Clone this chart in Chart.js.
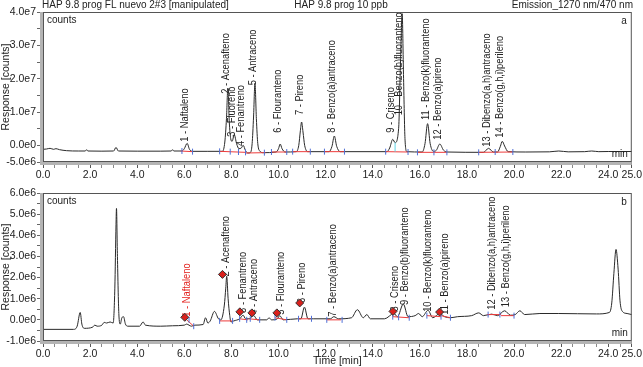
<!DOCTYPE html>
<html>
<head>
  <title>HAP 9.8 prog 10 ppb</title>
  <script src="https://cdn.jsdelivr.net/npm/chart.js"></script>
  <style>
    body {
      margin: 0;
      background: #fff;
      font-family: "Liberation Sans", Arial, sans-serif;
    }
    #wrap { position: relative; width: 643px; height: 367px; }
    .panel { position: absolute; left: 0; width: 643px; }
    #pa { top: 0; height: 182px; }
    #pb { top: 182px; height: 185px; }
  </style>
</head>
<body>

<div id="wrap">
  <div class="panel" id="pa"><canvas id="chartA" width="643" height="182"></canvas></div>
  <div class="panel" id="pb"><canvas id="chartB" width="643" height="185"></canvas></div>
</div>

<script>
  // ---- axes ----
  const xMajor = [0, 2, 4, 6, 8, 10, 12, 14, 16, 18, 20, 22, 24, 25];
  const yTicksA = [-5e6, 0, 1e7, 2e7, 3e7, 4e7];
  const yTicksB = [-1e6, 0, 1e6, 2e6, 3e6, 4e6, 5e6, 6e6];

  // ---- panel a : standard 10 ppb ----
  const timesA = [0, 0.15, 0.3, 0.45, 0.55, 0.7, 1.0, 1.5, 1.8, 1.85, 1.9, 2.5, 3.0, 3.1, 3.2, 4.0, 5.0, 5.45, 5.5, 5.55,
    5.9, 6.0, 6.12, 6.22, 6.35, 7.0, 7.62, 7.72, 7.79, 7.85, 7.91, 7.97, 8.03, 8.12, 8.22, 8.32, 8.42, 8.5, 8.6, 8.7,
    8.8, 8.88, 8.94, 9.0, 9.06, 9.12, 9.22, 9.35, 9.9, 10.0, 10.07, 10.15, 10.28, 10.75, 10.86, 10.93, 10.98, 11.04, 11.11, 11.25,
    12.15, 12.27, 12.37, 12.47, 12.62, 14.6, 14.72, 14.85, 14.95, 15.1, 15.18, 15.25, 15.31, 15.37, 15.45,
    16.1, 16.22, 16.33, 16.44, 16.58, 16.7, 16.85, 17.0, 17.15, 18.7, 18.92, 19.12, 19.3, 19.42, 19.5, 19.6, 19.75,
    20.5, 21.5, 21.9, 22.3, 23.0, 23.3, 23.6, 24.0, 25.0];
  const countsA = [-1.2e6, -1.1e6, -0.9e6, -1.2e6, -1.0e6, -1.3e6, -1.6e6, -1.7e6, -1.7e6, -1.3e6, -1.7e6, -1.75e6, -1.7e6, -0.6e6, -1.7e6, -1.75e6, -1.75e6, -1.7e6, -1.3e6, -1.7e6,
    -1.7e6, -1.0e6, 0.6e6, -1.2e6, -1.8e6, -1.8e6, -1.8e6, 1.0e6, 8.0e6, 1.72e7, 7.0e6, 2.0e6, 1.2e6, 3.2e6, 0.5e6, -1.0e6, -0.8e6, 0.0, -1.6e6, -2.3e6,
    -2.2e6, 0.5e6, 8.5e6, 1.86e7, 8.0e6, 0.5e6, -1.8e6, -2.2e6, -2.0e6, -1.0e6, 0.4e6, -1.0e6, -2.0e6, -1.9e6, 0.0, 4.5e6, 7.0e6, 4.0e6, 0.0, -1.9e6,
    -1.9e6, -0.3e6, 2.8e6, -0.3e6, -1.9e6, -1.9e6, -0.8e6, 1.8e6, 0.8e6, 5.0e6, 2.5e7, 3.95e7, 2.0e7, 2.0e6, -1.9e6,
    -2.0e6, 0.5e6, 6.5e6, 0.5e6, -1.8e6, -1.5e6, 0.4e6, -1.4e6, -2.0e6, -2.1e6, -0.9e6, -2.0e6, -2.0e6, -0.3e6, 1.2e6, -0.2e6, -1.9e6,
    -2.0e6, -1.95e6, -1.7e6, -1.95e6, -1.9e6, -1.7e6, -1.9e6, -1.85e6, -1.85e6];

  const namesA = ["1 - Naftaleno", "2 - Acenafteno", "3 - Fluoreno", "4 - Fenantreno", "5 - Antraceno", "6 - Flouranteno",
    "7 - Pireno", "8 - Benzo(a)antraceno", "9 - Criseno", "10 - Benzo(b)fluoranteno", "11 - Benzo(k)fluoranteno",
    "12 - Benzo(a)pireno", "13 - Dibenzo(a,h)antraceno", "14 - Benzo(g,h,i)perileno"];
  const labelTimesA = [6.12, 7.85, 8.12, 8.5, 9.0, 10.07, 10.98, 12.37, 14.85, 15.22, 16.33, 16.85, 18.92, 19.5];
  const labelBaseA = [1.1e6, 1.55e7, 2.6e6, -0.2e6, 1.8e7, 3.8e6, 9.1e6, 3.8e6, 3.8e6, 9.0e6, 7.6e6, 1.7e6, -0.4e6, 2.3e6];

  // integration baselines [t1, v1, t2, v2] and limit marks
  const baselinesA = [[5.85, -1.7e6, 6.35, -1.9e6], [7.5, -1.8e6, 8.6, -2.1e6], [8.6, -2.3e6, 9.45, -2.2e6],
    [9.7, -2.0e6, 10.35, -2.0e6], [10.6, -1.9e6, 11.35, -1.9e6], [11.95, -1.9e6, 12.8, -1.9e6],
    [14.55, -1.9e6, 15.5, -2.0e6], [15.9, -2.1e6, 17.15, -2.1e6], [18.5, -2.1e6, 19.95, -2.0e6]];
  const limitTimesA = [5.9, 6.35, 7.5, 7.95, 8.3, 8.6, 9.4, 9.7, 10.35, 10.6, 11.35, 11.95, 12.8, 14.55, 15.5, 15.9, 16.6, 17.15, 18.5, 19.2, 19.95];
  const limitCountsA = [-1.7e6, -1.9e6, -1.8e6, -1.9e6, -2.0e6, -2.1e6, -2.2e6, -2.0e6, -2.0e6, -1.9e6, -1.9e6, -1.9e6, -1.9e6, -1.9e6, -2.0e6, -2.1e6, -2.1e6, -2.1e6, -2.1e6, -2.0e6, -2.0e6];
  const dropTimeA = [14.95, 14.95];
  const dropCountsA = [-1.9e6, 0.8e6];

  // ---- panel b : sample ----
  const timesB = [0, 1.3, 1.45, 1.58, 1.65, 1.75, 2.1, 2.2, 2.3, 2.5, 2.6, 2.7, 2.85, 2.98, 3.05, 3.1, 3.12, 3.16, 3.22, 3.28,
    3.35, 3.42, 3.5, 3.6, 4.1, 4.25, 4.35, 5.0, 5.5, 6.0, 6.1, 6.2, 6.3, 6.45, 6.8, 6.9, 7.0, 7.1, 7.28, 7.45,
    7.55, 7.7, 7.76, 7.8, 7.86, 7.93, 7.98, 8.1, 8.35, 8.5, 8.6, 8.75, 8.95, 9.1, 9.5, 9.6, 9.7, 9.95, 10.05, 10.2,
    10.8, 10.95, 11.1, 11.25, 11.5, 12.2, 12.35, 12.55, 13.1, 13.35, 13.6, 13.75, 13.9, 14.5, 14.9, 15.05, 15.3, 15.5, 15.8, 15.95,
    16.1, 16.35, 16.55, 16.85, 17.05, 17.3, 17.6, 18.2, 18.5, 18.7, 19.05, 19.3, 19.6, 19.85, 20.05, 20.25, 20.45, 21.1, 21.9, 23.5,
    24.05, 24.15, 24.24, 24.33, 24.42, 24.5, 24.6, 24.8, 25.0];
  const countsB = [-0.45e6, -0.45e6, -0.3e6, 0.35e6, -0.2e6, -0.4e6, -0.35e6, -0.25e6, -0.3e6, -0.25e6, -0.12e6, -0.15e6, -0.1e6, -0.15e6, 1.5e6, 4.5e6, 5.27e6, 3.0e6, 0.3e6, -0.2e6,
    0.1e6, 0.15e6, -0.2e6, -0.3e6, -0.3e6, -0.1e6, -0.25e6, -0.3e6, -0.28e6, -0.25e6, -0.2e6, -0.25e6, -0.3e6, -0.25e6, -0.22e6, 0.1e6, -0.15e6, -0.05e6, 0.4e6, 0.05e6,
    0.0, 0.7e6, 1.5e6, 2.06e6, 1.0e6, 0.2e6, -0.1e6, -0.05e6, 0.05e6, 0.22e6, 0.05e6, 0.05e6, 0.2e6, 0.0, 0.0, 0.1e6, 0.0, 0.05e6, 0.2e6, 0.0,
    0.05e6, 0.05e6, 0.6e6, 0.05e6, 0.05e6, 0.05e6, 0.15e6, 0.05e6, 0.1e6, 0.48e6, 0.1e6, 0.25e6, 0.05e6, 0.05e6, 0.3e6, 0.15e6, 0.75e6, 0.15e6, 0.2e6, 0.3e6,
    0.15e6, 0.45e6, 0.1e6, 0.3e6, 0.15e6, 0.1e6, 0.15e6, 0.2e6, 0.33e6, 0.2e6, 0.27e6, 0.2e6, 0.43e6, 0.22e6, 0.25e6, 0.43e6, 0.25e6, 0.3e6, 0.3e6, 0.28e6,
    0.35e6, 0.8e6, 2.2e6, 3.33e6, 2.4e6, 0.9e6, 0.4e6, 0.3e6, 0.25e6];

  const namesB = ["1 - Naftaleno", "2 - Acenafteno", "3 - Fenantreno", "4 - Antraceno", "5 - Flouranteno", "6 - Pireno",
    "7 - Benzo(a)antraceno", "8 - Criseno", "9 - Benzo(b)fluoranteno", "10 - Benzo(k)fluoranteno", "11 - Benzo(a)pireno",
    "12 - Dibenzo(a,h)antraceno", "13 - Benzo(g,h,i)perileno"];
  const labelTimesB = [6.2, 7.85, 8.58, 9.06, 10.17, 11.1, 12.39, 15.05, 15.45, 16.44, 17.15, 19.16, 19.73];
  const labelBaseB = [0.15e6, 2.05e6, 0.33e6, 0.24e6, 0.24e6, 0.8e6, 0.15e6, 0.4e6, 0.7e6, 0.38e6, 0.24e6, 0.48e6, 0.6e6];
  const markerTimesB = [6.02, 7.62, 8.36, 8.87, 9.93, 10.9, 14.86, 16.84];
  const markerCountsB = [0.12e6, 2.15e6, 0.38e6, 0.33e6, 0.33e6, 0.8e6, 0.4e6, 0.37e6];

  const baselinesB = [[6.1, 0.0, 6.4, -0.3e6], [7.5, -0.05e6, 8.05, -0.05e6], [8.35, 0.05e6, 8.7, 0.0], [8.75, 0.05e6, 9.2, 0.0],
    [9.85, 0.1e6, 10.35, 0.0], [10.85, 0.05e6, 11.35, 0.05e6], [12.05, 0.0, 12.65, 0.0], [14.85, 0.15e6, 15.55, 0.1e6],
    [16.3, 0.2e6, 16.9, 0.15e6], [16.9, 0.2e6, 17.3, 0.1e6], [18.85, 0.25e6, 19.45, 0.25e6], [19.45, 0.2e6, 20.0, 0.2e6]];
  const limitTimesB = [6.2, 6.4, 7.5, 8.05, 8.35, 8.65, 8.8, 9.2, 9.85, 10.35, 10.85, 11.4, 12.05, 12.7, 14.85, 15.1, 15.55, 16.3, 16.9, 17.3, 18.9, 19.4, 20.0];
  const limitCountsB = [0.0, -0.3e6, -0.05e6, -0.05e6, 0.05e6, 0.0, 0.05e6, 0.0, 0.1e6, 0.0, 0.05e6, 0.05e6, 0.0, 0.0, 0.15e6, 0.12e6, 0.1e6, 0.2e6, 0.15e6, 0.1e6, 0.25e6, 0.25e6, 0.2e6];

  // ---- helpers ----
  Chart.defaults.font.family = '"Liberation Sans", Arial, sans-serif';
  Chart.defaults.color = '#222';

  const pts = (xs, ys) => xs.map((x, i) => ({ x: x, y: ys[i] }));
  const segs = list => {
    const out = [];
    list.forEach(s => out.push({ x: s[0], y: s[1] }, { x: s[2], y: s[3] }, { x: s[2], y: null }));
    return out;
  };
  const fmt = v => v.toExponential(1).replace('e+', 'e');

  const framePlugin = {
    id: 'frame',
    beforeDatasetsDraw(chart, args, opts) {
      const ctx = chart.ctx, xs = chart.scales.x, ys = chart.scales.y;
      ctx.save();
      ctx.font = '10px "Liberation Sans", Arial, sans-serif';
      ctx.textAlign = 'left';
      ctx.textBaseline = 'alphabetic';
      opts.names.forEach((n, i) => {
        const px = xs.getPixelForValue(opts.times[i]);
        const py = ys.getPixelForValue(opts.base[i]);
        ctx.fillStyle = (opts.red && i === 0) ? '#e3231f' : '#222';
        ctx.save();
        ctx.translate(px + 1, py);
        ctx.rotate(-Math.PI / 2);
        ctx.scale(0.93, 1);   // the original labels are a little narrower
        ctx.fillText(n, 0, 0);
        ctx.restore();
      });
      ctx.restore();
    },
    afterDraw(chart, args, opts) {
      const ctx = chart.ctx, a = chart.chartArea;
      ctx.save();
      ctx.fillStyle = '#b4b4b4';
      ctx.fillRect(a.left - 3, a.top, 3, a.bottom - a.top + 3);
      ctx.fillRect(a.left - 3, a.bottom, a.right - a.left + 3, 3);
      ctx.strokeStyle = '#555';
      ctx.lineWidth = 1;
      ctx.strokeRect(a.left + 0.5, a.top + 0.5, a.right - a.left - 1, a.bottom - a.top - 1);
      ctx.fillStyle = '#222';
      ctx.font = '10px "Liberation Sans", Arial, sans-serif';
      ctx.textBaseline = 'middle';
      ctx.textAlign = 'left';
      ctx.fillText('counts', a.left + 4, a.top + 8);
      ctx.textAlign = 'right';
      ctx.fillText(opts.tag, a.right - 5, a.top + 9);
      ctx.fillText('min', a.right - 4, a.bottom - 8);
      if (opts.header) {
        ctx.textAlign = 'left';
        ctx.fillText('HAP 9.8 prog FL nuevo 2#3 [manipulated]', 42, 5);
        ctx.textAlign = 'center';
        ctx.fillText('HAP 9.8 prog 10 ppb', 341, 5);
        ctx.textAlign = 'right';
        ctx.fillText('Emission_1270 nm/470 nm', 633, 5);
      }
      ctx.restore();
    }
  };

  function makeChart(id, cfg) {
    const minorX = [];
    for (let t = 0; t <= 25; t += 0.5) minorX.push(t);
    const datasets = [
      {
        data: pts(cfg.times, cfg.counts),
        borderColor: '#2a2a2a', borderWidth: 1, pointRadius: 0,
        cubicInterpolationMode: 'monotone', order: 3
      },
      {
        data: segs(cfg.baselines),
        borderColor: '#ee3b3b', borderWidth: 1, pointRadius: 0, spanGaps: false, order: 2
      },
      {
        data: pts(cfg.limitTimes, cfg.limitCounts),
        showLine: false, pointStyle: 'line', rotation: 90, pointRadius: 3,
        borderColor: '#4f6fd6', borderWidth: 1, order: 1
      }
    ];
    (cfg.extra || []).forEach(d => datasets.push(d));

    return new Chart(document.getElementById(id).getContext('2d'), {
      type: 'line',
      data: { datasets: datasets },
      plugins: [framePlugin],
      options: {
        responsive: false,
        animation: false,
        devicePixelRatio: 1,
        layout: { padding: { top: cfg.padTop, right: 10, left: 0, bottom: 0 } },
        plugins: {
          legend: { display: false },
          tooltip: { enabled: false },
          frame: { names: cfg.names, times: cfg.labelTimes, base: cfg.labelBase, tag: cfg.tag, header: cfg.header, red: cfg.red }
        },
        scales: {
          x: {
            type: 'linear', min: 0, max: 25,
            afterBuildTicks: s => { s.ticks = minorX.map(v => ({ value: v })); },
            afterFit: s => { s.height = cfg.xHeight; },
            ticks: {
              autoSkip: false, maxRotation: 0, padding: 1,
              font: { size: 10.5 },
              callback: v => xMajor.includes(v) ? v.toFixed(1) : ''
            },
            grid: {
              drawOnChartArea: false, tickLength: 6,
              tickColor: c => xMajor.includes(c.tick && c.tick.value) ? '#555' : '#888'
            },
            border: { display: false },
            title: {
              display: cfg.xTitle, text: 'Time [min]',
              font: { size: 10.5 }, padding: { top: 0, bottom: 0 }
            }
          },
          y: {
            min: cfg.yTicks[0], max: cfg.yTicks[cfg.yTicks.length - 1],
            afterBuildTicks: s => { s.ticks = cfg.yMinor.map(v => ({ value: v })); },
            afterFit: s => { s.width = 43; },
            ticks: {
              autoSkip: false, padding: 1,
              font: { size: 10.5 },
              callback: v => cfg.yTicks.includes(v) ? fmt(v) : ''
            },
            grid: { drawOnChartArea: false, tickLength: 6, tickColor: '#666' },
            border: { display: false },
            title: {
              display: true, text: 'Response [counts]',
              font: { size: 10.5 }, padding: { top: 0, bottom: 0 }
            }
          }
        }
      }
    });
  }

  const minorA = [];
  for (let v = -5e6; v <= 4e7; v += 5e6) minorA.push(v);
  const minorB = [];
  for (let v = -1e6; v <= 6e6; v += 5e5) minorB.push(v);

  makeChart('chartA', {
    times: timesA, counts: countsA, baselines: baselinesA,
    limitTimes: limitTimesA, limitCounts: limitCountsA,
    names: namesA, labelTimes: labelTimesA, labelBase: labelBaseA,
    yTicks: yTicksA, yMinor: minorA, padTop: 12, xHeight: 20, xTitle: false,
    tag: 'a', header: true, red: false,
    extra: [{
      data: pts(dropTimeA, dropCountsA), borderColor: '#5fd3e6', borderWidth: 1, pointRadius: 0, order: 0
    }]
  });

  makeChart('chartB', {
    times: timesB, counts: countsB, baselines: baselinesB,
    limitTimes: limitTimesB, limitCounts: limitCountsB,
    names: namesB, labelTimes: labelTimesB, labelBase: labelBaseB,
    yTicks: yTicksB, yMinor: minorB, padTop: 11, xHeight: 26, xTitle: true,
    tag: 'b', header: false, red: true,
    extra: [{
      data: pts(markerTimesB, markerCountsB), showLine: false, pointStyle: 'rectRot', pointRadius: 4,
      backgroundColor: '#d9201c', borderColor: '#333', borderWidth: 1, order: 0
    }]
  });
</script>

</body>
</html>
